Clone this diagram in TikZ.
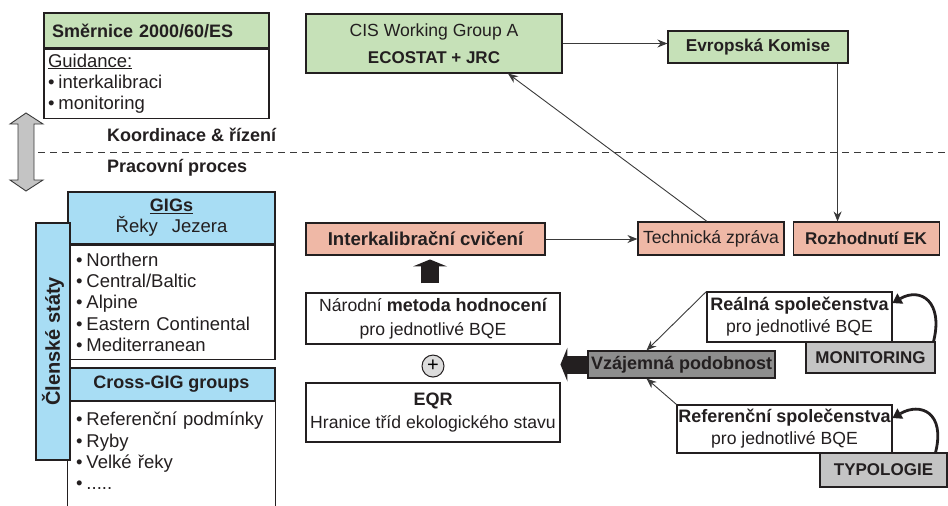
\documentclass[tikz,border=0pt]{standalone}
\usepackage{fontspec}
\setmainfont{Liberation Sans}
\usetikzlibrary{arrows.meta,positioning,calc}
\definecolor{wfGreen}{HTML}{C6E1B8}
\definecolor{wfBlue}{HTML}{A8DDF4}
\definecolor{wfSalmon}{HTML}{EFB8A6}
\definecolor{wfGrey}{HTML}{C4C4C4}
\definecolor{wfDark}{HTML}{8E8E8E}
\definecolor{wfInk}{HTML}{231F20}
\definecolor{wfLine}{HTML}{3A3A3A}
\newcommand\wfreg{\mdseries\fontsize{17.6}{21}\selectfont}
\newcommand\wflist{\mdseries\fontsize{18.5}{21.3}\selectfont}
\newcommand\wfbold{\bfseries\fontsize{18}{21}\selectfont}
\newcommand\wfcaps{\bfseries\fontsize{17}{21}\selectfont}
\newcommand\wfb[1]{{\wfbold #1}}
\newcommand\wfitem{\textbullet\hspace{4pt}}
\tikzset{
  wfbox/.style={
    rectangle, draw=wfInk, line width=1.1pt, fill=white, text=wfInk,
    align=center, inner sep=0pt, font=\wfreg
  },
  wfhead/.style={
    wfbox, font=\wfbold
  },
  wflist/.style={
    wfbox, align=left, font=\wflist
  },
  wflabel/.style={
    text=wfInk, inner sep=0pt, font=\wfbold
  },
  wfplus/.style={
    circle, draw=wfInk, fill=wfGrey!60, line width=1pt, minimum size=22pt,
    inner sep=0pt, font=\fontsize{20}{20}\selectfont
  },
  wflink/.style={-{Stealth[length=10pt,width=8pt]}, draw=wfLine, line width=0.9pt},
  wfblock/.style={-{Triangle[length=7pt,width=34pt,line width=0pt]}, draw=wfInk, line width=18pt},
  wfcurve/.style={-{Triangle[length=9pt,width=12pt,line width=0pt]}, draw=wfInk, line width=2.8pt},
  wfdash/.style={draw=wfLine, line width=0.9pt, dash pattern=on 7pt off 5pt},
  wfdouble/.style={draw=wfLine, line width=0.9pt, fill=wfGrey, line join=miter}
}

\begin{document}
\begin{tikzpicture}[x=1pt, y=-1pt]
\useasboundingbox (0,0) rectangle (948,506);

% Směrnice
\node[wfhead, fill=wfGreen, minimum width=225pt, minimum height=35pt, text width=209pt, align=left] (smer) at (156.5,30.5) {Směrnice 2000/60/ES};
\node[wflist, minimum width=225pt, minimum height=69pt, text width=217pt, below=0pt of smer] (smerg) {\underline{Guidance:}\\ \wfitem interkalibraci\\ \wfitem monitoring};

% Koordinace / pracovní proces
\draw[wfdash] (38,152) -- (948,152);
\node[wflabel, anchor=west] (koord) at (107,135) {Koordinace \& řízení};
\node[wflabel, anchor=west] (prac) at (107,168) {Pracovní proces};
\draw[wfdouble] (26,113) -- (43,124) -- (34,124) -- (34,180) -- (43,180) -- (26,191)
  -- (10,180) -- (18,180) -- (18,124) -- (10,124) -- cycle;

% GIGs a Cross-GIG
\node[wfhead, fill=wfBlue, minimum width=207pt, minimum height=52pt] (gig) at (171.5,218) {\underline{GIGs}\\{\wflist Řeky\hspace{14pt}Jezera}};
\node[wflist, minimum width=207pt, minimum height=114pt, text width=191pt, below=0pt of gig] (gigl) {\wfitem Northern\\ \wfitem Central/Baltic\\ \wfitem Alpine\\ \wfitem Eastern Continental\\ \wfitem Mediterranean};
\node[wfhead, fill=wfBlue, minimum width=207pt, minimum height=33pt] (cross) at (171.5,384.5) {Cross-GIG groups};
\node[wflist, draw=none, fill=none, minimum width=207pt, minimum height=98pt, text width=191pt, below=0pt of cross] (crossl) {\wfitem Referenční podmínky\\ \wfitem Ryby\\ \wfitem Velké řeky\\ \wfitem .....};
\draw[wfbox] (crossl.north west) -- ++(0,112);
\draw[wfbox] (crossl.north east) -- ++(0,112);
\node[wfhead, fill=wfBlue, rotate=90, minimum width=237pt, minimum height=34pt, font=\bfseries\fontsize{20}{21}\selectfont] (clen) at (53,341.5) {Členské státy};

% Evropská úroveň
\node[wfbox, fill=wfGreen, minimum width=256pt, minimum height=59pt] (cis) at (434,43.5) {CIS Working Group A\\[6pt]{\wfcaps ECOSTAT + JRC}};
\node[wfhead, fill=wfGreen, minimum width=180pt, minimum height=32pt, font=\bfseries\fontsize{17.2}{21}\selectfont] (ek) at (758,47) {Evropská Komise};

% Cvičení a výstupy
\node[wfhead, fill=wfSalmon, minimum width=239pt, minimum height=32pt, font=\bfseries\fontsize{18.6}{21}\selectfont] (interk) at (425.5,239) {Interkalibrační cvičení};
\node[wfbox, fill=wfSalmon, minimum width=146pt, minimum height=33pt] (tech) at (711,238.5) {Technická zpráva};
\node[wfhead, fill=wfSalmon, minimum width=146pt, minimum height=33pt, font=\wfcaps, right=8pt of tech] (rozh) {Rozhodnutí EK};

% Národní metody
\node[wfbox, minimum width=254pt, minimum height=51pt] (narod) at (433,318.5) {Národní \wfb{metoda hodnocení}\\[3pt]pro jednotlivé BQE};
\node[wfplus, below=10pt of narod] (plus) {+};
\node[wfbox, minimum width=254pt, minimum height=59pt] (eqr) at (433,412.5) {\wfb{EQR}\\[2pt]Hranice tříd ekologického stavu};

% Podobnost společenstev
\node[wfhead, fill=wfDark, minimum width=187pt, minimum height=27pt] (vzaj) at (681.5,364.5) {Vzájemná podobnost};
\node[wfbox, minimum width=185pt, minimum height=50pt] (real) at (799.5,317) {\wfb{Reálná společenstva}\\[1pt]pro jednotlivé BQE};
\node[wfhead, fill=wfGrey, minimum width=129pt, minimum height=31pt, font=\wfcaps] (monit) at (870.5,357.5) {MONITORING};
\node[wfbox, minimum width=215pt, minimum height=48pt] (ref) at (784.5,429) {\wfb{Referenční společenstva}\\[1pt]pro jednotlivé BQE};
\node[wfhead, fill=wfGrey, minimum width=127pt, minimum height=34pt, font=\wfcaps] (typo) at (883.5,470) {TYPOLOGIE};

% Spojnice
\draw[wflink] (cis.east) -- (cis.east -| ek.west);
\draw[wflink] ([xshift=-11pt]ek.south east) -- ([xshift=-11pt]ek.south east |- rozh.north);
\draw[wflink] (interk.east) -- (interk.east -| tech.west);
\draw[wflink] ([xshift=-4pt]tech.north) -- ([xshift=74pt]cis.south);
\draw[wflink] (real.north west) -- ([xshift=-35pt]vzaj.north);
\draw[wflink] (ref.north west) -- ([xshift=-35pt]vzaj.south);
\draw[wfcurve] ([xshift=-2pt]monit.north east) .. controls +(10,-40) and +(28,-16) .. ([yshift=14pt]real.east);
\draw[wfcurve] ([xshift=-12pt]typo.north east) .. controls +(10,-40) and +(28,-16) .. ([yshift=11pt]ref.east);
\draw[wfblock] ($(narod.north)+(-3,-9)$) -- ($(narod.north)+(-3,-33)$);
\draw[wfblock] (vzaj.west) -- ($(vzaj.west)+(-27,0)$);

\end{tikzpicture}
\end{document}
